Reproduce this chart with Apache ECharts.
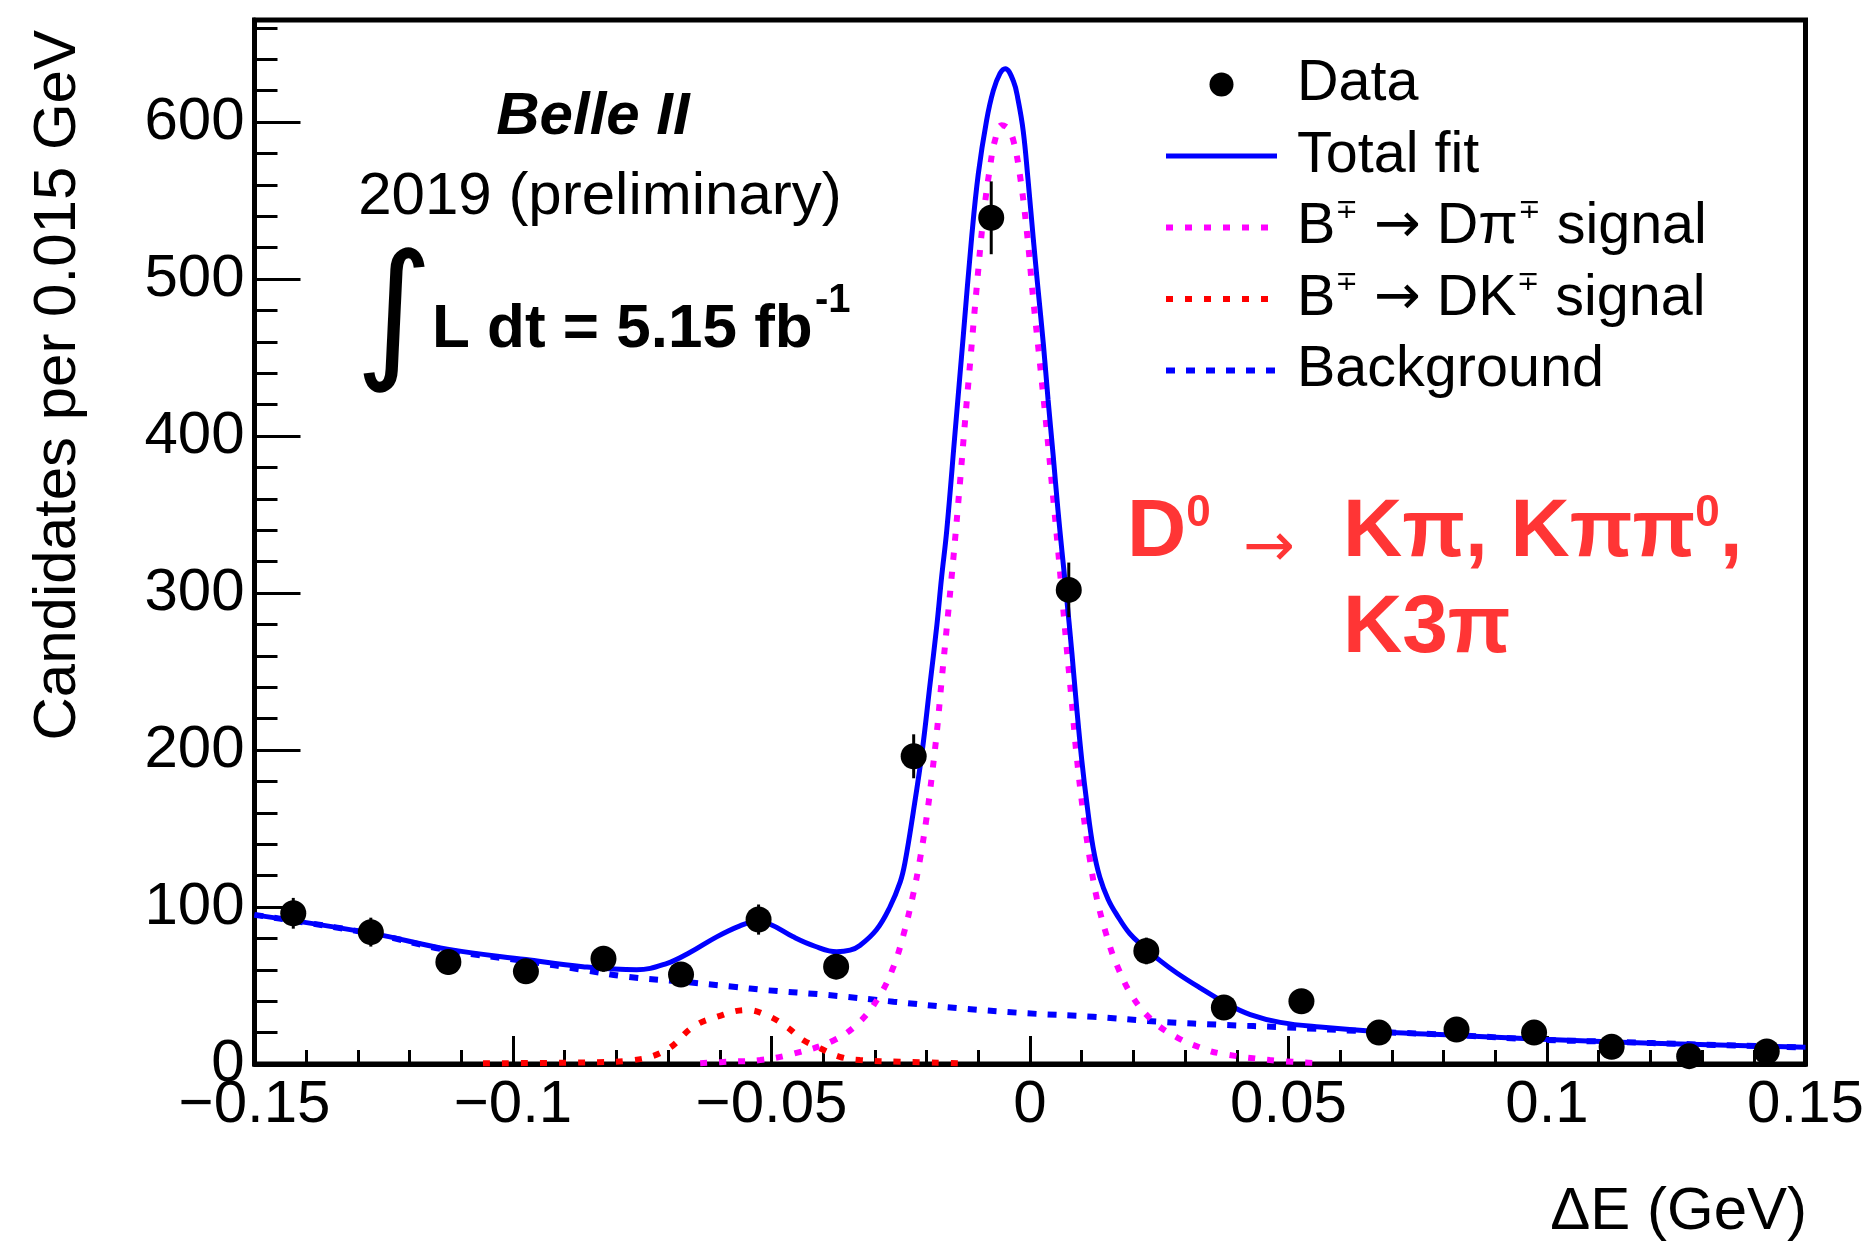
<!DOCTYPE html>
<html><head><meta charset="utf-8">
<script src="https://cdn.jsdelivr.net/npm/echarts@6/dist/echarts.min.js"></script>
<style>html,body{margin:0;padding:0;background:#fff}#c{width:1870px;height:1244px}</style>
</head><body><div id="c"></div>
<script>
// ---- data ----
const binCenters = [-0.1425, -0.1275, -0.1125, -0.0975, -0.0825, -0.0675, -0.0525, -0.0375, -0.0225, -0.0075,
                     0.0075, 0.0225, 0.0375, 0.0525, 0.0675, 0.0825, 0.0975, 0.1125, 0.1275, 0.1425];
const counts = [96, 84, 65, 59, 67, 57, 92, 62, 196, 539, 302, 72, 36, 40, 20, 22, 20, 11, 5, 8];
const countErrors = [9.8, 9.2, 8.1, 7.7, 8.2, 7.5, 9.6, 7.9, 14.0, 23.2, 17.4, 8.5, 6.0, 6.3, 4.5, 4.7, 4.5, 3.3, 2.2, 2.8];

const totalFitX = [-0.1500, -0.1273, -0.1124, -0.0975, -0.0865, -0.0761, -0.0703, -0.0658, -0.0606, -0.0561,
                   -0.0532, -0.0503, -0.0458, -0.0416, -0.0374, -0.0348, -0.0329, -0.0297, -0.0271, -0.0251,
                   -0.0242, -0.0226, -0.0209, -0.0193, -0.0180, -0.0171, -0.0161, -0.0145, -0.0129, -0.0113,
                   -0.0100, -0.0084, -0.0071, -0.0058, -0.0048, -0.0032, -0.0023, -0.0013, -0.0004, 0.0006,
                   0.0016, 0.0026, 0.0035, 0.0045, 0.0054, 0.0062, 0.0070, 0.0081, 0.0090, 0.0100,
                   0.0110, 0.0122, 0.0135, 0.0151, 0.0168, 0.0193, 0.0219, 0.0251, 0.0284, 0.0329,
                   0.0380, 0.0426, 0.0484, 0.0561, 0.0676, 0.0826, 0.0976, 0.1130, 0.1277, 0.1500];
const totalFitY = [95, 83.2, 73, 66.5, 62, 60, 64, 71, 81, 88,
                   90.5, 89, 81, 75, 71.5, 72.5, 75.5, 85.5, 100, 116,
                   128, 160, 198, 243, 280, 310, 340, 402, 464, 526,
                   567, 601, 620, 631, 634, 626, 614, 594, 564, 527,
                   492, 458, 423, 387, 353, 326, 300, 262, 228, 194,
                   166, 138, 119, 105, 95, 83, 75, 66, 58, 48.5,
                   38.5, 31.5, 26.5, 23.5, 20.6, 18.2, 16, 14, 12.6, 10.6];

const dpiX = [-0.0638, -0.0580, -0.0522, -0.0458, -0.0380, -0.0329, -0.0290, -0.0264, -0.0245, -0.0226,
              -0.0213, -0.0200, -0.0190, -0.0180, -0.0171, -0.0161, -0.0148, -0.0135, -0.0126, -0.0116,
              -0.0103, -0.0090, -0.0077, -0.0068, -0.0055, -0.0043, -0.0032, -0.0019, -0.0006, 0.0006,
              0.0019, 0.0032, 0.0045, 0.0055, 0.0064, 0.0071, 0.0081, 0.0090, 0.0103, 0.0116,
              0.0129, 0.0148, 0.0168, 0.0200, 0.0239, 0.0284, 0.0329, 0.0367, 0.0464, 0.0561];
const dpiY = [0.5, 1.5, 2.5, 6.5, 15, 27, 44, 62, 82, 108,
              130, 157, 183, 212, 244, 278, 323, 372, 408, 446,
              495, 540, 572, 588, 598, 596, 588, 565, 530, 488,
              447, 405, 360, 325, 291, 265, 230, 197, 160, 130,
              106, 82, 63, 42, 27, 17, 10.5, 6.8, 2.5, 0.5];

const dkX = [-0.1058, -0.0865, -0.0767, -0.0703, -0.0651, -0.0606, -0.0548, -0.0509, -0.0471, -0.0439,
             -0.0406, -0.0368, -0.0329, -0.0251, -0.0135];
const dkY = [0.5, 1, 2.5, 9, 23.8, 30, 34.4, 31, 23.8, 15.3, 10, 4.6, 2.5, 1.5, 0.5];

const bkgX = [-0.1500, -0.1273, -0.1124, -0.0975, -0.0865, -0.0780, -0.0671, -0.0574, -0.0509, -0.0393,
              -0.0264, -0.0135, -0.0006, 0.0122, 0.0251, 0.0380, 0.0484, 0.0676, 0.0826, 0.0976,
              0.1130, 0.1277, 0.1500];
const bkgY = [95, 83, 72.3, 65.5, 60, 55.6, 52.4, 49.2, 47, 44,
              39.7, 35.5, 32.3, 30.1, 26.9, 24.8, 23.5, 20.4, 18.4, 15.6,
              14.1, 12.6, 10.5];

const xTickValues = [-0.15, -0.1, -0.05, 0, 0.05, 0.1, 0.15];
const xTickLabels = ['\u22120.15', '\u22120.1', '\u22120.05', '0', '0.05', '0.1', '0.15'];
const yTickValues = [0, 100, 200, 300, 400, 500, 600];
const yTickLabels = ['0', '100', '200', '300', '400', '500', '600'];

const seriesNames = ['Data', 'Total fit', 'B\u2213 \u2192 D\u03c0\u2213 signal', 'B\u2213 \u2192 DK\u2213 signal', 'Background'];
const legendRich = {
  'Data': '{n|Data}',
  'Total fit': '{n|Total fit}',
  'B\u2213 \u2192 D\u03c0\u2213 signal': '{n|B}{s|\u2213}{n| }{a|\u2192}{n| D\u03c0}{s|\u2213}{n| signal}',
  'B\u2213 \u2192 DK\u2213 signal': '{n|B}{s|\u2213}{n| }{a|\u2192}{n| DK}{s|\u2213}{n| signal}',
  'Background': '{n|Background}'
};

// ---- chart ----
const FONT = '"Liberation Sans", Arial, Helvetica, sans-serif';
const SYMF = '"DejaVu Sans", sans-serif';
const pair = (xs, ys) => xs.map((x, i) => [x, ys[i]]);
const chart = echarts.init(document.getElementById('c'), null, {renderer: 'canvas'});

function label(x, y, text, o) {
  o = o || {};
  const st = Object.assign({
    text: text, fill: o.color || '#000', fontFamily: o.family || FONT,
    fontSize: o.size || 60, fontWeight: o.weight || 'normal', fontStyle: o.style || 'normal',
    align: o.align || 'left', textAlign: o.align || 'left',
    verticalAlign: 'middle', textVerticalAlign: 'middle'
  }, o.extra || {});
  return {type: 'text', x: x, y: y, rotation: o.rotation || 0, z: 100, style: st};
}

const RED = '#ff3535';
const redRich = {
  b: {fontFamily: FONT, fontSize: 82, fontWeight: 'bold', color: RED, lineHeight: 82},
  s: {fontFamily: FONT, fontSize: 44, fontWeight: 'bold', color: RED, lineHeight: 50, verticalAlign: 'top'}
};

const option = {
  animation: false,
  backgroundColor: '#fff',
  grid: {left: 254.5, right: 64.5, top: 20, bottom: 180, containLabel: false, outerBoundsMode: 'none',
         show: true, borderColor: '#000', borderWidth: 5, backgroundColor: 'transparent'},
  xAxis: [{
    type: 'value', min: -0.15, max: 0.15, interval: 0.05,
    axisLine: {show: true, onZero: false, lineStyle: {color: '#000', width: 5}},
    axisTick: {show: true, inside: true, length: 28, lineStyle: {color: '#000', width: 3}},
    minorTick: {show: true, splitNumber: 5, length: 14, lineStyle: {color: '#000', width: 3}},
    splitLine: {show: false},
    axisLabel: {
      fontFamily: FONT, fontSize: 60, color: '#000', margin: 41, verticalAlign: 'middle',
      formatter: v => { const i = xTickValues.findIndex(t => Math.abs(t - v) < 1e-6); return i >= 0 ? xTickLabels[i] : ''; }
    }
  }],
  yAxis: [{
    type: 'value', min: 0, max: 665, interval: 100,
    axisLine: {show: true, onZero: false, lineStyle: {color: '#000', width: 5}},
    axisTick: {show: true, inside: true, length: 46, lineStyle: {color: '#000', width: 3}},
    splitLine: {show: false},
    axisLabel: {
      fontFamily: FONT, fontSize: 60, color: '#000', margin: 10, showMaxLabel: false,
      formatter: v => { const i = yTickValues.findIndex(t => Math.abs(t - v) < 1e-6); return i >= 0 ? yTickLabels[i] : ''; }
    }
  }, {
    type: 'value', min: 0, max: 665, interval: 20, position: 'left',
    axisLine: {show: false, onZero: false}, axisLabel: {show: false}, splitLine: {show: false},
    axisTick: {show: true, inside: true, length: 23, lineStyle: {color: '#000', width: 3}}
  }],
  legend: {
    orient: 'vertical', left: 1163, top: 54.5, padding: 0, itemGap: 11.5,
    itemWidth: 111, itemHeight: 24, selectedMode: false,
    lineStyle: {width: 'inherit', type: 'inherit'},
    textStyle: {
      fontFamily: FONT, fontSize: 57.5, color: '#000', lineHeight: 60, padding: [0, 0, 0, 15],
      rich: {
        n: {fontFamily: FONT, fontSize: 57.5, color: '#000', lineHeight: 60},
        a: {fontFamily: SYMF, fontSize: 56, color: '#000', lineHeight: 60},
        s: {fontFamily: SYMF, fontSize: 27, color: '#000', lineHeight: 13, verticalAlign: 'top'}
      }
    },
    formatter: name => legendRich[name] || name,
    data: [
      {name: seriesNames[0], icon: 'circle'},
      {name: seriesNames[1], itemStyle: {opacity: 0}},
      {name: seriesNames[2], itemStyle: {opacity: 0}},
      {name: seriesNames[3], itemStyle: {opacity: 0}},
      {name: seriesNames[4], itemStyle: {opacity: 0}}
    ]
  },
  series: [
    {
      name: seriesNames[4], type: 'line', data: pair(bkgX, bkgY), showSymbol: false, symbol: 'none',
      smooth: 0.4, z: 2,
      lineStyle: {color: '#0000ff', width: 6, type: [9, 11]}, itemStyle: {color: '#0000ff'}
    },
    {
      name: seriesNames[3], type: 'line', data: pair(dkX, dkY), showSymbol: false, symbol: 'none',
      smooth: 0.4, z: 2,
      lineStyle: {color: '#ff0000', width: 6, type: [7, 12]}, itemStyle: {color: '#ff0000'}
    },
    {
      name: seriesNames[2], type: 'line', data: pair(dpiX, dpiY), showSymbol: false, symbol: 'none',
      smooth: 0.4, z: 2,
      lineStyle: {color: '#ff00ff', width: 6, type: [7, 12]}, itemStyle: {color: '#ff00ff'}
    },
    {
      name: seriesNames[1], type: 'line', data: pair(totalFitX, totalFitY), showSymbol: false, symbol: 'none',
      smooth: 0.4, z: 3,
      lineStyle: {color: '#0000ff', width: 5, type: 'solid'}, itemStyle: {color: '#0000ff'}
    },
    {
      name: 'errors', type: 'custom', z: 4, silent: true,
      data: binCenters.map((c, i) => [c, counts[i], countErrors[i]]),
      renderItem: (params, api) => {
        const x = api.value(0), y = api.value(1), e = api.value(2);
        const p1 = api.coord([x, y - e]), p2 = api.coord([x, y + e]);
        return {type: 'line', shape: {x1: p1[0], y1: p1[1], x2: p2[0], y2: p2[1]}, style: {stroke: '#000', lineWidth: 3}};
      }
    },
    {
      name: seriesNames[0], type: 'scatter', data: pair(binCenters, counts), symbol: 'circle', symbolSize: 26, z: 5,
      itemStyle: {color: '#000', opacity: 1}
    }
  ],
  graphic: [
    label(58, 30, 'Candidates per 0.015 GeV', {align: 'right', rotation: Math.PI / 2}),
    label(1807, 1212, '\u0394E (GeV)', {align: 'right'}),
    label(593, 117, 'Belle II', {weight: 'bold', style: 'italic', align: 'center'}),
    label(600, 197, '2019 (preliminary)', {align: 'center'}),
    label(394, 322, '\u222b', {family: SYMF, size: 150, align: 'center'}),
    label(432, 330, 'L dt = 5.15 fb', {weight: 'bold', size: 62}),
    label(815, 301, '-1', {weight: 'bold', size: 40}),
    label(1127, 533, '{b|D}{s|0}', {color: RED, extra: {rich: redRich}}),
    label(1243, 550, '\u2192', {color: RED, size: 62, family: SYMF}),
    label(1343, 533, '{b|K\u03c0, K\u03c0\u03c0}{s|0}{b|,}', {color: RED, extra: {rich: redRich}}),
    label(1343, 629, 'K3\u03c0', {color: RED, size: 82, weight: 'bold'})
  ]
};
chart.setOption(option);
</script>
</body></html>
